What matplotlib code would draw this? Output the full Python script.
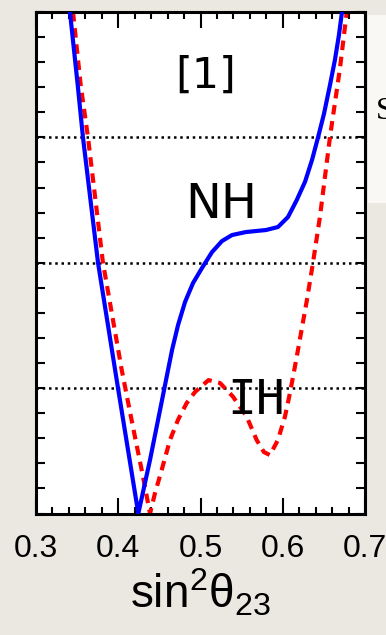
import matplotlib
matplotlib.use('Agg')
import matplotlib.pyplot as plt
from matplotlib.patches import Rectangle

plt.rcParams['mathtext.fontset'] = 'custom'
plt.rcParams['mathtext.rm'] = 'Liberation Sans'
plt.rcParams['mathtext.it'] = 'Liberation Sans'

# NH curve (solid blue)
nh_x = [0.3413, 0.3507, 0.3571, 0.3754, 0.3997, 0.4244, 0.4386, 0.4508, 0.4581,
        0.4654, 0.4727, 0.4812, 0.4909, 0.5018, 0.5140, 0.5261, 0.5383, 0.5553,
        0.5796, 0.5942, 0.6064, 0.6170, 0.6271, 0.6356, 0.6429, 0.6502, 0.6575,
        0.6635, 0.6684, 0.6720]
nh_y = [4.00, 3.418, 3.00, 2.00, 1.00, 0.00, 0.427, 0.825, 1.065,
        1.304, 1.503, 1.687, 1.838, 1.958, 2.085, 2.173, 2.221, 2.245,
        2.261, 2.285, 2.365, 2.500, 2.646, 2.82, 3.00, 3.19, 3.42,
        3.62, 3.82, 4.00]

# IH curve (dashed red)
ih_x = [0.3450, 0.3543, 0.3632, 0.3814, 0.4042, 0.4179, 0.4285, 0.4386, 0.4447,
        0.4528, 0.4629, 0.4726, 0.4832, 0.4933, 0.5097, 0.5237, 0.5395, 0.5561,
        0.5683, 0.5771, 0.5844, 0.5941, 0.6027, 0.6088, 0.6148, 0.6185, 0.6294,
        0.6367, 0.6452, 0.6574, 0.6696, 0.6778]
ih_y = [4.00, 3.418, 3.00, 2.00, 1.146, 0.69, 0.347, 0.00, 0.163,
        0.347, 0.586, 0.746, 0.881, 0.969, 1.064, 1.041, 0.932, 0.773,
        0.586, 0.49, 0.466, 0.586, 0.773, 0.962, 1.172, 1.304, 1.703,
        1.998, 2.365, 3.002, 3.553, 4.00]

x_ticks = [0.3, 0.4, 0.5, 0.6, 0.7]
x_ticklabels = ['0.3', '0.4', '0.5', '0.6', '0.7']
grid_levels = [1, 2, 3]

W, H = 386, 635
fig = plt.figure(figsize=(W / 100, H / 100), dpi=100, facecolor='#ebe8e1')

# piece of the neighbouring slide box at the right edge
fig.patches.append(Rectangle((368 / W, 1 - 203 / H), 18 / W, 188 / H,
                             transform=fig.transFigure, facecolor='#f9f8f5',
                             edgecolor='none', zorder=0))
fig.text(376 / W, 1 - 119 / H, 'S', family='Liberation Serif', fontsize=23,
         va='baseline', ha='left')

ax = fig.add_axes([36 / W, (H - 513.5) / H, 329 / W, 501.5 / H])
ax.set_facecolor('white')

for g in grid_levels:
    ax.axhline(g, color='black', lw=1.8, ls=(0, (1.0, 1.5)), zorder=1)

ax.plot(ih_x, ih_y, color='red', lw=3, ls=(0, (2.3, 1.6)), zorder=2)
ax.plot(nh_x, nh_y, color='blue', lw=3, solid_joinstyle='round', zorder=3)

ax.set_xlim(0.3, 0.7)
ax.set_ylim(0, 4)
ax.set_xticks(x_ticks)
ax.set_xticklabels(x_ticklabels, family='Liberation Sans', fontsize=23)
ax.set_xticks([0.3 + 0.02 * i for i in range(21)], minor=True)
ax.set_yticks([0.2 * i for i in range(21)])
ax.set_yticklabels([])
ax.tick_params(axis='x', which='major', direction='in', length=11.5, width=1.5,
               top=True, pad=15)
ax.tick_params(axis='x', which='minor', direction='in', length=5, width=1.5, top=True)
ax.tick_params(axis='y', direction='in', length=6.5, width=1.5, right=True)
for s in ax.spines.values():
    s.set_linewidth(2.2)

ax.set_xlabel(r'$\mathrm{sin^2\theta_{23}}$', fontsize=33, labelpad=2)

ax.text(0.3 + (206 - 36) / 822.5, (513.5 - 76) / 125.4, '[1]',
        family='DejaVu Sans', fontsize=31, ha='center', va='center')
ax.text(0.3 + (221 - 36) / 822.5, (513.5 - 204) / 125.4, 'NH',
        family='DejaVu Sans', fontsize=34.5, ha='center', va='center')
ax.text(0.3 + (256 - 36) / 822.5, (513.5 - 400) / 125.4, 'IH',
        family='DejaVu Sans Mono', fontsize=34.5, ha='center', va='center')

plt.savefig('out.png', dpi=100, facecolor=fig.get_facecolor())
